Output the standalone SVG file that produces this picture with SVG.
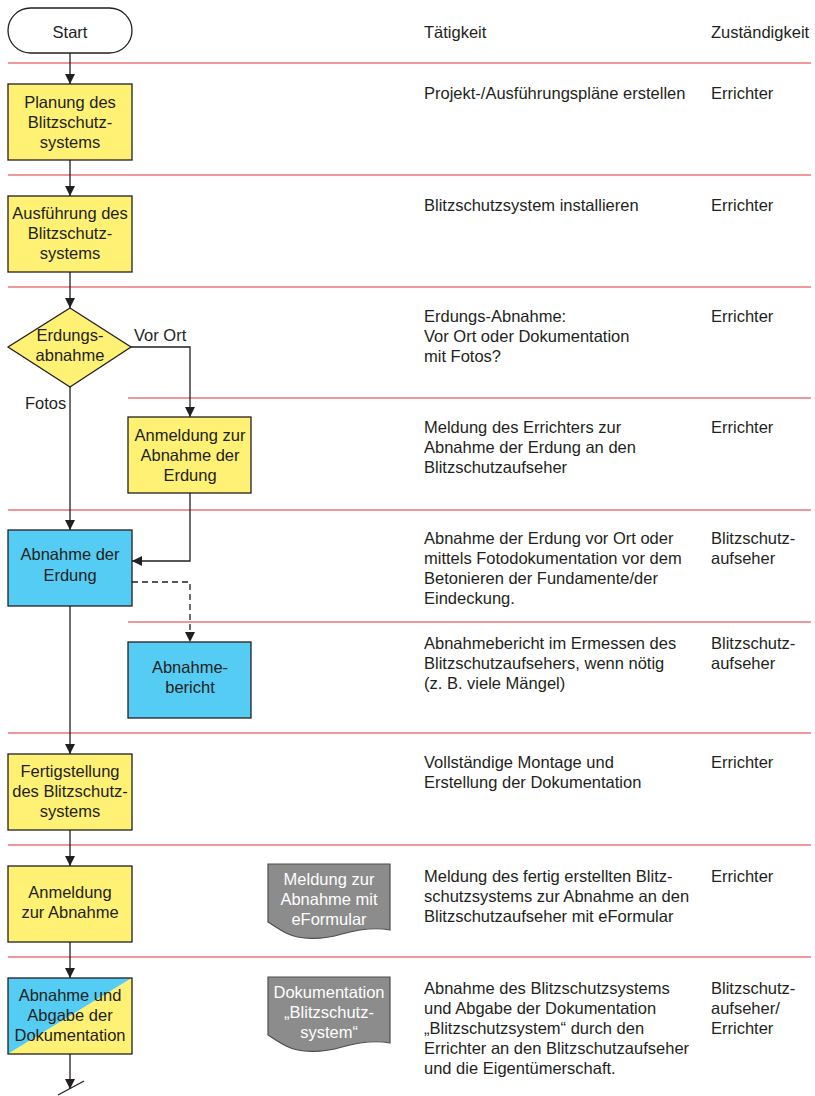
<svg xmlns="http://www.w3.org/2000/svg" width="815" height="1096" viewBox="0 0 815 1096">
<defs>
<marker id="ah" viewBox="0 0 10 10" refX="10" refY="5" markerWidth="10" markerHeight="10" markerUnits="userSpaceOnUse" orient="auto">
<path d="M0,0 L10,5 L0,10 Z" fill="#231f20"/>
</marker>
<style>
text{font-family:"Liberation Sans",Arial,sans-serif;font-size:16.5px;fill:#231f20}
.c{text-anchor:middle}
.w{fill:#ffffff}
.sep{stroke:#e3303a;stroke-width:1.2;fill:none}
.box{stroke:#231f20;stroke-width:1.3}
.y{fill:#fff173}
.b{fill:#55ccf4}
.doc{fill:#8c8c8c;stroke:#4d4d4d;stroke-width:1.2}
.ln{stroke:#231f20;stroke-width:1.3;fill:none}
</style>
</defs>
<rect width="815" height="1096" fill="#ffffff"/>
<g id="separators">
<line class="sep" x1="8" y1="63" x2="811" y2="63"/>
<line class="sep" x1="8" y1="175" x2="811" y2="175"/>
<line class="sep" x1="8" y1="287" x2="811" y2="287"/>
<line class="sep" x1="128" y1="398" x2="811" y2="398"/>
<line class="sep" x1="8" y1="510" x2="811" y2="510"/>
<line class="sep" x1="128" y1="622" x2="811" y2="622"/>
<line class="sep" x1="8" y1="733" x2="811" y2="733"/>
<line class="sep" x1="8" y1="845" x2="811" y2="845"/>
<line class="sep" x1="8" y1="957" x2="811" y2="957"/>
</g>
<g id="connectors">
<line class="ln" x1="70" y1="53" x2="70" y2="84" marker-end="url(#ah)"/>
<line class="ln" x1="70" y1="160" x2="70" y2="196" marker-end="url(#ah)"/>
<line class="ln" x1="70" y1="272" x2="70" y2="308" marker-end="url(#ah)"/>
<polyline class="ln" points="131,347 190,347 190,417" marker-end="url(#ah)"/>
<line class="ln" x1="70" y1="387" x2="70" y2="530" marker-end="url(#ah)"/>
<polyline class="ln" points="190,493 190,561 132,561" marker-end="url(#ah)"/>
<polyline class="ln" points="132,582 190,582 190,642" stroke-dasharray="6,4" marker-end="url(#ah)"/>
<line class="ln" x1="70" y1="606" x2="70" y2="754" marker-end="url(#ah)"/>
<line class="ln" x1="70" y1="830" x2="70" y2="866" marker-end="url(#ah)"/>
<line class="ln" x1="70" y1="942" x2="70" y2="978" marker-end="url(#ah)"/>
<line class="ln" x1="70" y1="1054" x2="70" y2="1089" marker-end="url(#ah)"/>
<line class="ln" x1="58" y1="1095" x2="84" y2="1081"/>
<text x="134" y="341">Vor Ort</text>
<text x="25" y="409">Fotos</text>
</g>
<g id="start">
<rect x="8" y="8" width="124" height="45" rx="22.5" fill="#ffffff" class="box"/>
<text class="c" x="70" y="38">Start</text>
</g>
<g id="planung">
<rect x="8" y="84" width="124" height="76" class="box y"/>
<text class="c" x="70" y="108">Planung des</text>
<text class="c" x="70" y="128">Blitzschutz-</text>
<text class="c" x="70" y="148">systems</text>
</g>
<g id="ausfuehrung">
<rect x="8" y="196" width="124" height="76" class="box y"/>
<text class="c" x="70" y="219">Ausführung des</text>
<text class="c" x="70" y="239">Blitzschutz-</text>
<text class="c" x="70" y="259">systems</text>
</g>
<g id="erdungsabnahme">
<polygon points="70,308 131,347 70,387 8,347" class="box y"/>
<text class="c" x="70" y="341">Erdungs-</text>
<text class="c" x="70" y="361">abnahme</text>
</g>
<g id="anmeldung-erdung">
<rect x="128" y="417" width="123" height="76" class="box y"/>
<text class="c" x="190" y="441">Anmeldung zur</text>
<text class="c" x="190" y="461">Abnahme der</text>
<text class="c" x="190" y="481">Erdung</text>
</g>
<g id="abnahme-erdung">
<rect x="8" y="530" width="124" height="76" class="box b"/>
<text class="c" x="70" y="560">Abnahme der</text>
<text class="c" x="70" y="581">Erdung</text>
</g>
<g id="abnahmebericht">
<rect x="128" y="642" width="123" height="76" class="box b"/>
<text class="c" x="190" y="673">Abnahme-</text>
<text class="c" x="190" y="693">bericht</text>
</g>
<g id="fertigstellung">
<rect x="8" y="754" width="124" height="76" class="box y"/>
<text class="c" x="70" y="777">Fertigstellung</text>
<text class="c" x="70" y="797">des Blitzschutz-</text>
<text class="c" x="70" y="817">systems</text>
</g>
<g id="anmeldung-abnahme">
<rect x="8" y="866" width="124" height="76" class="box y"/>
<text class="c" x="70" y="898">Anmeldung</text>
<text class="c" x="70" y="918">zur Abnahme</text>
</g>
<g id="abnahme-abgabe">
<polygon points="8,978 132,978 8,1054" class="b"/>
<polygon points="132,978 132,1054 8,1054" class="y"/>
<rect x="8" y="978" width="124" height="76" fill="none" class="box"/>
<text class="c" x="70" y="1001">Abnahme und</text>
<text class="c" x="70" y="1021">Abgabe der</text>
<text class="c" x="70" y="1041">Dokumentation</text>
</g>
<g id="doc-eformular">
<path class="doc" d="M268,864 H390 V930 C374,927 360,929 342,934 C322,940 300,940 286,933 C278,929 273,925 268,922 Z"/>
<text class="c w" x="329" y="885">Meldung zur</text>
<text class="c w" x="329" y="905">Abnahme mit</text>
<text class="c w" x="329" y="925">eFormular</text>
</g>
<g id="doc-dokumentation">
<path class="doc" d="M268,977 H390 V1043 C374,1040 360,1042 342,1047 C322,1053 300,1053 286,1046 C278,1042 273,1038 268,1035 Z"/>
<text class="c w" x="329" y="998">Dokumentation</text>
<text class="c w" x="329" y="1018">„Blitzschutz-</text>
<text class="c w" x="329" y="1038">system“</text>
</g>
<g id="table-text">
<text x="424" y="38">Tätigkeit</text>
<text x="711" y="38">Zuständigkeit</text>
<text x="424" y="99">Projekt-/Ausführungspläne erstellen</text>
<text x="711" y="99">Errichter</text>
<text x="424" y="211">Blitzschutzsystem installieren</text>
<text x="711" y="211">Errichter</text>
<text x="424" y="322">Erdungs-Abnahme:</text>
<text x="424" y="342">Vor Ort oder Dokumentation</text>
<text x="424" y="362">mit Fotos?</text>
<text x="711" y="322">Errichter</text>
<text x="424" y="433">Meldung des Errichters zur</text>
<text x="424" y="453">Abnahme der Erdung an den</text>
<text x="424" y="473">Blitzschutzaufseher</text>
<text x="711" y="433">Errichter</text>
<text x="424" y="544">Abnahme der Erdung vor Ort oder</text>
<text x="424" y="564">mittels Fotodokumentation vor dem</text>
<text x="424" y="584">Betonieren der Fundamente/der</text>
<text x="424" y="604">Eindeckung.</text>
<text x="711" y="544">Blitzschutz-</text>
<text x="711" y="564">aufseher</text>
<text x="424" y="649">Abnahmebericht im Ermessen des</text>
<text x="424" y="669">Blitzschutzaufsehers, wenn nötig</text>
<text x="424" y="689">(z. B. viele Mängel)</text>
<text x="711" y="649">Blitzschutz-</text>
<text x="711" y="669">aufseher</text>
<text x="424" y="768">Vollständige Montage und</text>
<text x="424" y="788">Erstellung der Dokumentation</text>
<text x="711" y="768">Errichter</text>
<text x="424" y="882">Meldung des fertig erstellten Blitz-</text>
<text x="424" y="902">schutzsystems zur Abnahme an den</text>
<text x="424" y="922">Blitzschutzaufseher mit eFormular</text>
<text x="711" y="882">Errichter</text>
<text x="424" y="994">Abnahme des Blitzschutzsystems</text>
<text x="424" y="1014">und Abgabe der Dokumentation</text>
<text x="424" y="1034">„Blitzschutzsystem“ durch den</text>
<text x="424" y="1054">Errichter an den Blitzschutzaufseher</text>
<text x="424" y="1074">und die Eigentümerschaft.</text>
<text x="711" y="994">Blitzschutz-</text>
<text x="711" y="1014">aufseher/</text>
<text x="711" y="1034">Errichter</text>
</g>
</svg>
